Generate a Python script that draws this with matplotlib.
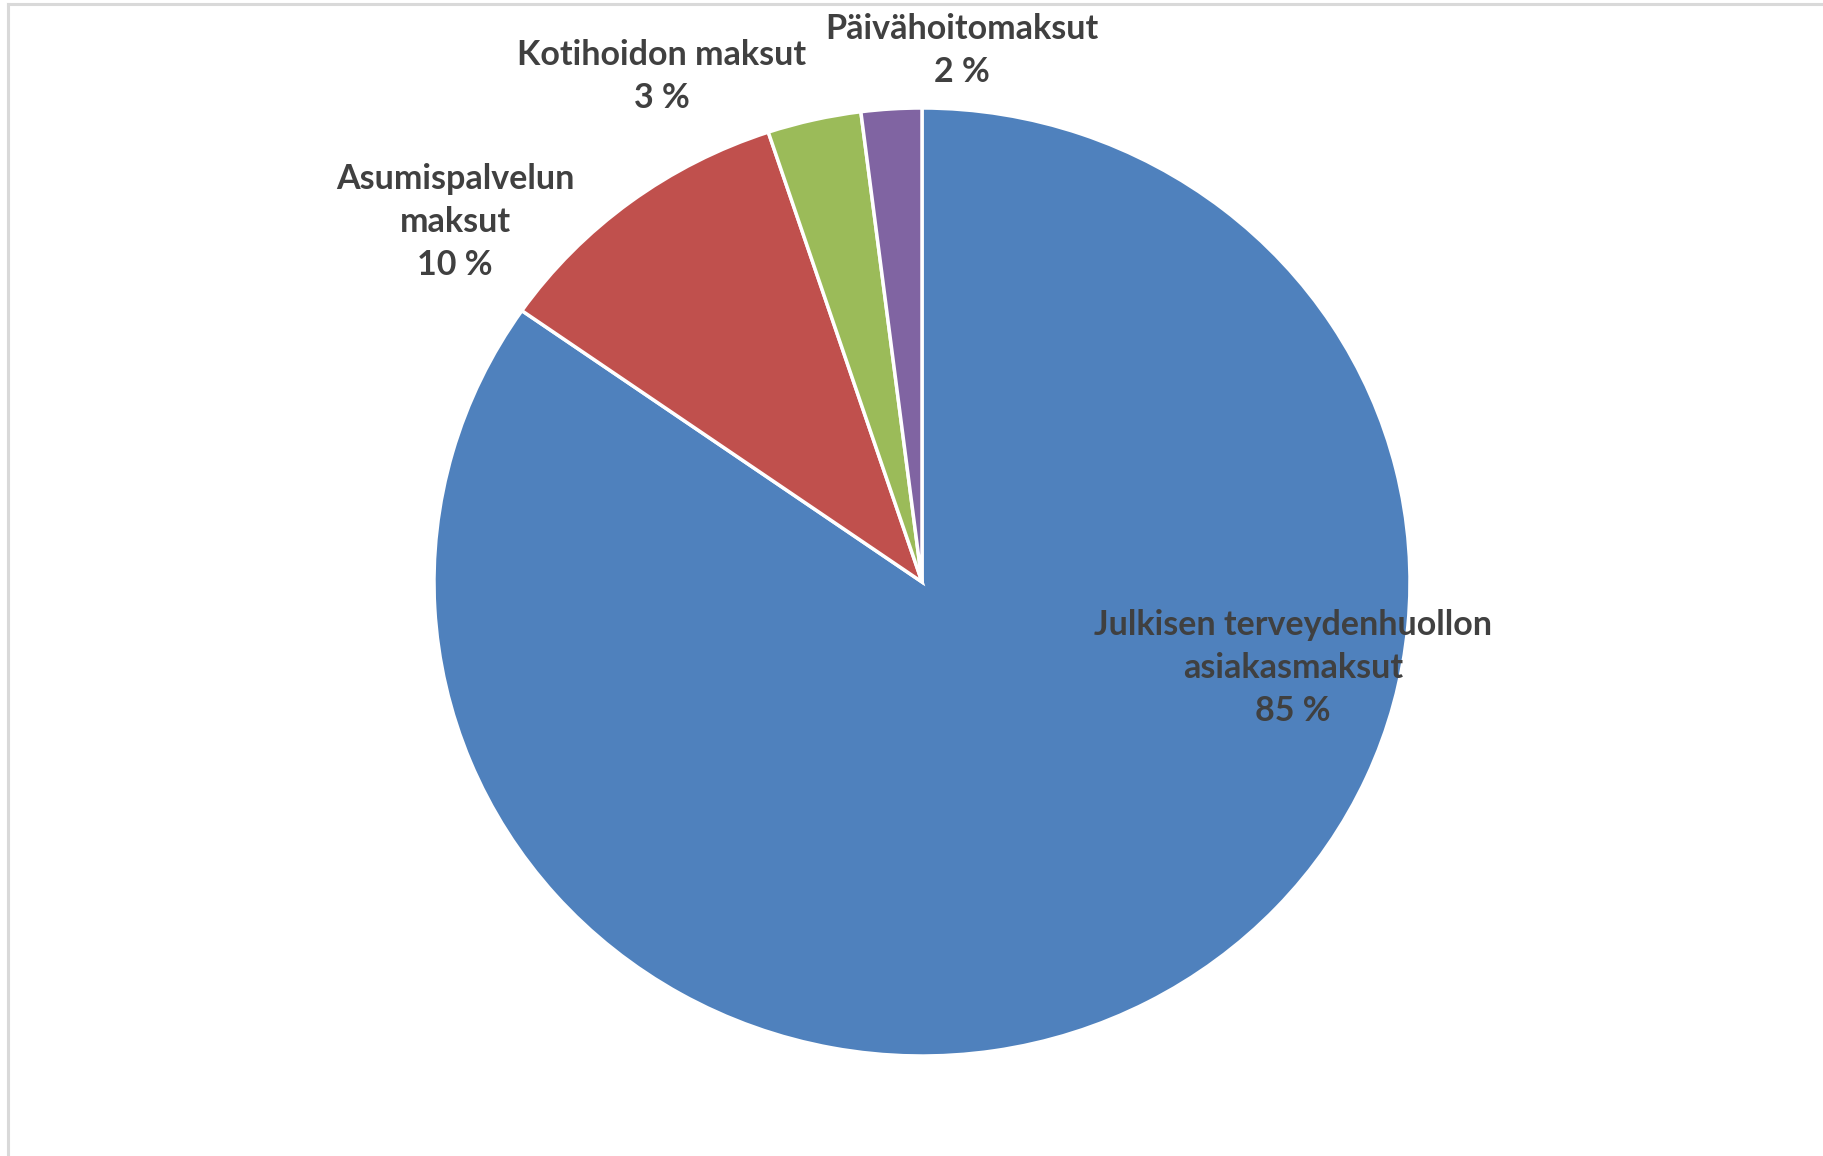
import matplotlib.pyplot as plt
from matplotlib.lines import Line2D

# Data (shares of client fees, %)
labels = ['Julkisen terveydenhuollon\nasiakasmaksut', 'Asumispalvelun\nmaksut',
          'Kotihoidon maksut', 'Päivähoitomaksut']
shares = [84.7, 10.2, 3.1, 2.0]
colors = ['#4F81BD', '#C0504D', '#9BBB59', '#8064A2']

# label anchor points in pie-radius units (Excel-style placement)
label_pos = [(0.760, -0.182), (-0.957, 0.759), (-0.533, 1.067), (0.081, 1.121)]

W, H = 1824, 1156
fig = plt.figure(figsize=(W / 100, H / 100), dpi=100)

# pie centre (922, 582) px; the source is slightly stretched horizontally
cx, cy, rx, ry = 922, 582, 488, 474
ax = fig.add_axes([(cx - rx) / W, (H - cy - ry) / H, 2 * rx / W, 2 * ry / H])
ax.pie(shares, colors=colors, startangle=90, counterclock=False,
       wedgeprops=dict(edgecolor='white', linewidth=2.5))
ax.set_xlim(-1, 1)
ax.set_ylim(-1, 1)
ax.set_aspect('auto')
ax.axis('off')

for lab, val, (lx, ly) in zip(labels, shares, label_pos):
    ax.text(lx, ly, f'{lab}\n{round(val):.0f} %', ha='center', va='center',
            fontsize=24.5, fontweight='bold', family=['Lato', 'DejaVu Sans'],
            color='#404040', linespacing=1.42)

# chart area border (only top and left visible in the crop)
fig.add_artist(Line2D([8 / W, 8 / W], [0, 1 - 4 / H], transform=fig.transFigure,
                      color='#D9D9D9', linewidth=2.2))
fig.add_artist(Line2D([8 / W, 1], [1 - 4 / H, 1 - 4 / H], transform=fig.transFigure,
                      color='#D9D9D9', linewidth=2.2))

fig.savefig('out.png', dpi=100, facecolor='white')
